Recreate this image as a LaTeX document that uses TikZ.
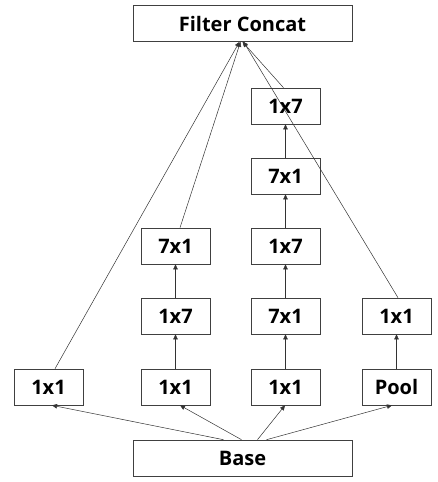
\documentclass[tikz,border=0pt]{standalone}
\usepackage{fontspec}
\setmainfont{Open Sans}
\usetikzlibrary{arrows.meta}
\tikzset{
  layer/.style={draw=black!75, line width=0.6pt, minimum width=69pt, minimum height=36pt, inner sep=0pt, font=\bfseries\fontsize{20}{20}\selectfont},
  wide/.style={layer, minimum width=219pt},
  flow/.style={line width=0.5pt, draw=black!80, -{Triangle[length=5pt,width=4.5pt]}}
}
\begin{document}
\begin{tikzpicture}[x=1pt,y=-1pt]
\useasboundingbox (0,0) rectangle (437,482);
% concat and base
\node [wide] (concat) at (242.5,23.5) {Filter Concat};
\node [wide] (base) at (242.5,458) {Base};

% bottom row
\node [layer] (b1) at (48.5,387) {1x1};
\node [layer] (b2) at (175.5,387) {1x1};
\node [layer] (b3) at (285.5,387) {1x1};
\node [layer] (pool) at (396.5,387) {Pool};

% second column
\node [layer] (c2a) at (175.5,316) {1x7};
\node [layer] (c2b) at (175.5,246) {7x1};

% third column
\node [layer] (c3a) at (285.5,316) {7x1};
\node [layer] (c3b) at (285.5,246) {1x7};
\node [layer] (c3c) at (285.5,176) {7x1};
\node [layer] (c3d) at (285.5,106) {1x7};

% fourth column
\node [layer] (c4a) at (396.5,316) {1x1};

% base to bottom row
\draw [flow] ([xshift=-19pt]base.north) -- ([xshift=3.5pt]b1.south);
\draw [flow] ([xshift=-1pt]base.north) -- ([xshift=4.5pt]b2.south);
\draw [flow] ([xshift=15pt]base.north) -- ([xshift=-0.5pt]b3.south);
\draw [flow] ([xshift=24pt]base.north) -- ([xshift=-4.5pt]pool.south);

% columns
\draw [flow] (b2) -- (c2a);
\draw [flow] (c2a) -- (c2b);
\draw [flow] (b3) -- (c3a);
\draw [flow] (c3a) -- (c3b);
\draw [flow] (c3b) -- (c3c);
\draw [flow] (c3c) -- (c3d);
\draw [flow] (pool) -- (c4a);

% to concat
\draw [flow] ([xshift=6.5pt]b1.north) -- ([xshift=-3pt]concat.south);
\draw [flow] ([xshift=4.5pt]c2b.north) -- ([xshift=-2pt]concat.south);
\draw [flow] ([xshift=-2pt]c3d.north) -- ([xshift=0pt]concat.south);
\draw [flow] ([xshift=1.5pt]c4a.north) -- ([xshift=1pt]concat.south);
\end{tikzpicture}
\end{document}
